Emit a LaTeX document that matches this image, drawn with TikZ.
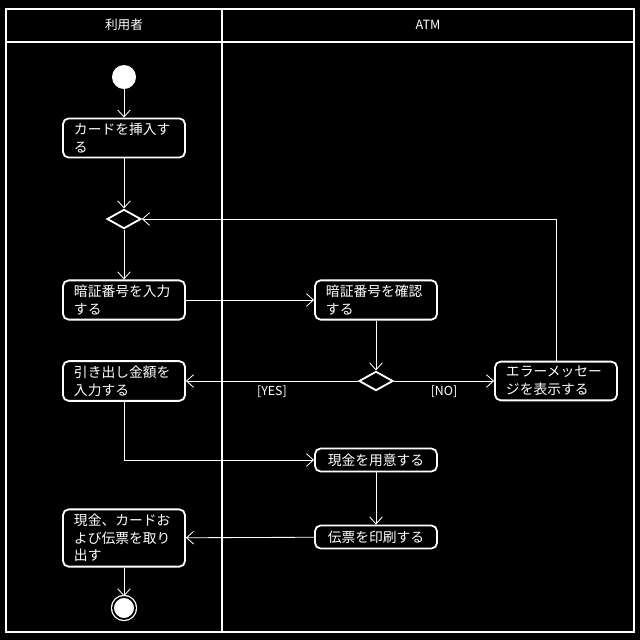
\documentclass[tikz,border=0pt]{standalone}
\usepackage{fontspec}
\setmainfont{Noto Sans CJK JP}
\usepackage{tikz}
\usetikzlibrary{arrows.meta,shapes.geometric}

\begin{document}
\begin{tikzpicture}[x=0.025cm,y=-0.025cm,
    font=\fontsize{9.8pt}{12.5pt}\selectfont,
    lane/.style={white,line width=1.8pt},
    act/.style={draw=white,fill=black,text=white,line width=1.3pt,rounded corners=4pt,
      minimum width=3.05cm,minimum height=0.875cm,text width=2.5cm,align=left,inner xsep=0.27cm},
    act1/.style={act,align=center,minimum height=0.575cm},
    choice/.style={diamond,draw=white,fill=black,line width=1.3pt,inner sep=0pt,
      minimum width=0.85cm,minimum height=0.48cm},
    flow/.style={white,line width=0.6pt,-{Straight Barb[length=5pt,width=9pt]}},
    guard/.style={text=white,below,font=\fontsize{8.8pt}{10pt}\selectfont}]
  \fill[black] (0,0) rectangle (640,640);
  \draw[lane] (6,9) rectangle (634,632);
  \draw[lane] (6,42) -- (634,42);
  \draw[lane] (222,9) -- (222,632);
  \node[text=white,font=\fontsize{9pt}{10pt}\selectfont] (user) at (124,25) {利用者};
  \node[text=white,font=\fontsize{9pt}{10pt}\selectfont] (atm) at (428,25) {ATM};

  \node[circle,fill=white,minimum size=0.6cm,inner sep=0pt] (start) at (124,77) {};
  \node[act] (card) at (124,138) {カードを挿入す\\る};
  \node[choice] (merge) at (124,219) {};
  \node[act] (pin) at (124,300) {暗証番号を入力\\する};
  \node[act] (check) at (376,300) {暗証番号を確認\\する};
  \node[choice] (ok) at (376,381) {};
  \node[act] (amount) at (124,381) {引き出し金額を\\入力する};
  \node[act] (error) at (556,381) {エラーメッセー\\ジを表示する};
  \node[act1] (cash) at (376,460) {現金を用意する};
  \node[act1] (slip) at (376,537) {伝票を印刷する};
  \node[act,minimum height=1.25cm] (take) at (124,538) {現金、カードお\\よび伝票を取り\\出す};
  \node[circle,draw=white,fill=white,line width=0.9pt,double=black,double distance=1.3pt,
    minimum size=0.55cm,inner sep=0pt] (stop) at (124,608) {};

  \draw[flow] (start) -- (card);
  \draw[flow] (card) -- (merge);
  \draw[flow] (merge) -- (pin);
  \draw[flow] (pin) -- (check);
  \draw[flow] (check) -- (ok);
  \draw[flow] (ok) -- node[guard]{[YES]} (amount);
  \draw[flow] (ok) -- node[guard]{[NO]} (error);
  \draw[flow] (error.north) |- (merge.east);
  \draw[flow] (amount.south) |- (cash.west);
  \draw[flow] (cash) -- (slip);
  \draw[flow] (slip) -- (take);
  \draw[flow] (take) -- (stop);
\end{tikzpicture}
\end{document}
